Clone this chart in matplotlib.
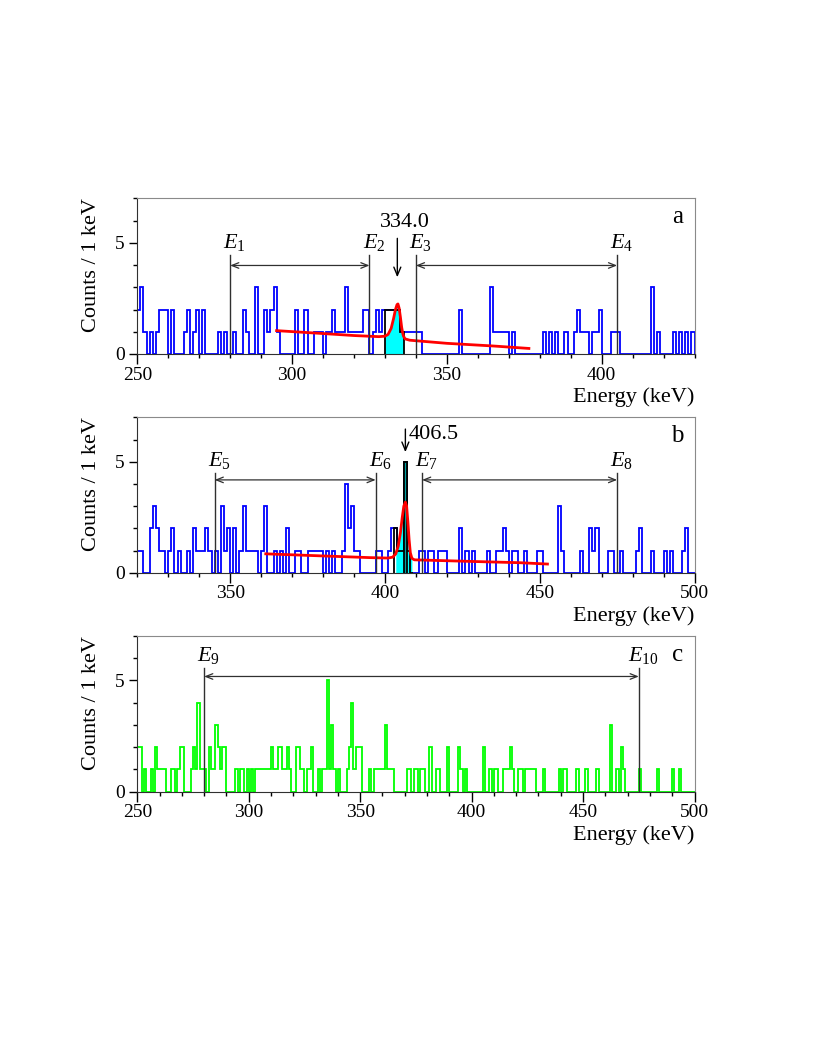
import numpy as np
import matplotlib.pyplot as plt
from matplotlib.ticker import MultipleLocator

plt.rcParams['font.family'] = ['Liberation Serif', 'DejaVu Serif']
plt.rcParams['mathtext.fontset'] = 'custom'
plt.rcParams['mathtext.rm'] = 'Liberation Serif'
plt.rcParams['mathtext.it'] = 'Liberation Serif:italic'

# ---- panel a : 250-430 keV, 1 keV bins ----
counts_a = [2, 3, 1, 0, 1, 0, 1, 2, 2, 2,   # 250
            0, 2, 0, 0, 0, 1, 2, 0, 1, 2,   # 260
            0, 2, 0, 0, 0, 0, 1, 0, 1, 0,   # 270
            0, 1, 0, 0, 2, 1, 0, 0, 3, 0,   # 280
            0, 2, 1, 2, 3, 1, 0, 0, 0, 0,   # 290
            0, 2, 0, 0, 2, 0, 0, 1, 1, 1,   # 300
            0, 1, 1, 2, 1, 1, 1, 3, 1, 1,   # 310
            1, 1, 1, 2, 2, 0, 1, 2, 1, 2,   # 320
            2, 2, 2, 2, 2, 1, 1, 1, 1, 1,   # 330
            1, 1, 0, 0, 0, 0, 0, 0, 0, 0,   # 340
            0, 0, 0, 0, 2, 0, 0, 0, 0, 0,   # 350
            0, 0, 0, 0, 3, 1, 1, 1, 1, 1,   # 360
            0, 1, 0, 0, 0, 0, 0, 0, 0, 0,   # 370
            0, 1, 0, 1, 0, 1, 0, 0, 1, 0,   # 380
            0, 1, 2, 1, 1, 1, 0, 1, 1, 2,   # 390
            0, 0, 0, 1, 1, 1, 0, 0, 0, 0,   # 400
            0, 0, 0, 0, 0, 0, 3, 0, 1, 0,   # 410
            0, 0, 0, 1, 0, 1, 0, 1, 0, 1]   # 420
fit_a_E = [295, 310, 320, 328, 330, 331, 332, 332.8, 333.4, 333.9, 334.2,
           334.6, 335.0, 335.4, 335.8, 336.0, 336.5, 338, 350, 365, 376.5]
fit_a_y = [1.05, 0.92, 0.83, 0.78, 0.80, 0.88, 1.15, 1.6, 2.0, 2.22, 2.25,
           2.05, 1.65, 1.2, 0.9, 0.8, 0.68, 0.62, 0.48, 0.36, 0.25]
peak_a = (330, 336)
marks_a = [280, 325, 340, 405]
names_a = ['1', '2', '3', '4']

# ---- panel b : 320-500 keV ----
counts_b = [1, 1, 0, 0, 2, 3, 2, 1, 1, 0,   # 320
            1, 2, 0, 1, 0, 0, 1, 0, 2, 1,   # 330
            1, 1, 2, 1, 0, 1, 0, 3, 1, 2,   # 340
            0, 2, 0, 1, 3, 1, 1, 1, 1, 0,   # 350
            1, 3, 0, 0, 1, 0, 1, 0, 2, 0,   # 360
            0, 1, 1, 0, 0, 1, 1, 1, 1, 1,   # 370
            0, 1, 0, 1, 0, 0, 1, 4, 2, 3,   # 380
            1, 1, 0, 0, 0, 0, 0, 1, 1, 0,   # 390
            0, 1, 2, 2, 1, 1, 5, 1, 0, 0,   # 400
            0, 1, 1, 0, 1, 1, 0, 1, 1, 1,   # 410
            0, 0, 0, 0, 2, 0, 1, 0, 1, 0,   # 420
            0, 0, 0, 1, 0, 0, 1, 1, 2, 1,   # 430
            0, 1, 1, 0, 0, 1, 0, 0, 0, 1,   # 440
            1, 0, 0, 0, 0, 0, 3, 1, 0, 0,   # 450
            0, 0, 0, 1, 0, 0, 2, 1, 2, 0,   # 460
            0, 0, 1, 1, 0, 0, 1, 0, 0, 0,   # 470
            0, 1, 2, 0, 0, 0, 1, 0, 0, 0,   # 480
            1, 0, 1, 0, 0, 0, 1, 2, 0, 0]   # 490
fit_b_E = [361.5, 379, 395, 401, 402.5, 403.5, 404.3, 405.0, 405.6, 406.1,
           406.6, 407.0, 407.4, 407.8, 408.2, 408.7, 409.5, 412, 430, 443.6, 452.5]
fit_b_y = [0.85, 0.76, 0.68, 0.66, 0.70, 0.85, 1.2, 1.8, 2.5, 3.0,
           3.18, 3.0, 2.3, 1.5, 0.9, 0.65, 0.58, 0.57, 0.50, 0.45, 0.39]
peak_b = (403, 409)
marks_b = [345, 397, 412, 475]
names_b = ['5', '6', '7', '8']

# ---- panel c : 250-500 keV ----
counts_c = [2, 2, 0, 1, 0, 0, 1, 0, 2, 1,   # 250
            1, 1, 1, 0, 0, 1, 1, 0, 1, 2,   # 260
            2, 0, 0, 0, 1, 2, 1, 4, 1, 1,   # 270
            1, 0, 2, 1, 1, 3, 2, 1, 2, 2,   # 280
            0, 0, 0, 0, 1, 0, 1, 1, 0, 1,   # 290
            0, 1, 0, 1, 1, 1, 1, 1, 1, 1,   # 300
            2, 1, 1, 2, 2, 1, 1, 2, 1, 0,   # 310
            0, 2, 2, 1, 1, 0, 1, 1, 2, 0,   # 320
            0, 1, 0, 1, 1, 5, 1, 3, 1, 0,   # 330
            1, 0, 0, 0, 1, 2, 4, 1, 2, 2,   # 340
            2, 0, 0, 0, 1, 0, 1, 1, 1, 1,   # 350
            1, 3, 1, 1, 1, 0, 0, 0, 0, 0,   # 360
            0, 1, 1, 0, 1, 1, 0, 1, 1, 0,   # 370
            0, 2, 0, 0, 1, 1, 0, 0, 0, 2,   # 380
            0, 0, 0, 0, 2, 1, 0, 1, 0, 0,   # 390
            0, 0, 0, 0, 0, 2, 0, 0, 1, 0,   # 400
            1, 1, 0, 0, 1, 1, 1, 2, 1, 0,   # 410
            0, 1, 1, 0, 1, 1, 1, 1, 1, 0,   # 420
            0, 0, 1, 0, 0, 0, 0, 0, 0, 1,   # 430
            0, 1, 1, 0, 0, 0, 0, 1, 0, 0,   # 440
            0, 1, 0, 0, 0, 0, 1, 0, 0, 0,   # 450
            0, 0, 3, 0, 0, 1, 0, 2, 1, 0,   # 460
            0, 0, 0, 0, 0, 1, 0, 0, 0, 0,   # 470
            0, 0, 0, 1, 0, 0, 0, 0, 0, 0,   # 480
            1, 0, 0, 1, 0, 0, 0, 0, 0, 0]   # 490
marks_c = [280, 475]
names_c = ['9', '10']

W, H = 817, 1057
fig = plt.figure(figsize=(W / 100, H / 100), dpi=100)


def make_axes(top, bottom):
    left, right = 137.3, 694.5
    return fig.add_axes([left / W, 1 - bottom / H, (right - left) / W, (bottom - top) / H])


def style(ax, lo, hi, letter):
    ax.set_xlim(lo, hi)
    ax.set_ylim(0, 7)
    ax.xaxis.set_major_locator(MultipleLocator(50))
    ax.xaxis.set_minor_locator(MultipleLocator(10))
    ax.yaxis.set_major_locator(MultipleLocator(5))
    ax.yaxis.set_minor_locator(MultipleLocator(1))
    ax.tick_params(which='major', direction='out', length=6, width=1, labelsize=14, pad=3)
    ax.tick_params(which='minor', direction='out', length=3, width=1)
    ax.tick_params(axis='x', which='major', length=7, pad=2)
    for s in ['top', 'right']:
        ax.spines[s].set_color('#8a8a8a')
    for s in ['left', 'bottom']:
        ax.spines[s].set_color('#303030')
    ax.set_xlabel('Energy (keV)', loc='right', fontsize=16, labelpad=3)
    ax.set_ylabel('Counts / 1 keV', loc='top', fontsize=16, labelpad=10)
    ax.text(0.97, 0.88, letter, transform=ax.transAxes, fontsize=18,
            ha='center', va='center')


def ranges(ax, marks, names, ytop, yarrow, dx):
    for e, n in zip(marks, names):
        ax.plot([e, e], [0, ytop], color='#303030', lw=1)
        ax.text(e + dx, ytop + 0.1, '$E_{%s}$' % n, fontsize=16, ha='center', va='bottom')
    for i in range(0, len(marks), 2):
        ax.annotate('', xy=(marks[i], yarrow), xytext=(marks[i + 1], yarrow),
                    arrowprops=dict(arrowstyle='<->,head_length=0.5,head_width=0.2',
                                    color='#303030', lw=0.9, shrinkA=0, shrinkB=0))


def panel(ax, lo, counts, color):
    edges = np.arange(lo, lo + len(counts) + 1)
    ax.stairs(counts, edges, color=color, lw=1.3, baseline=0)
    return edges


# panel a
ax = make_axes(198.3, 354)
edges = panel(ax, 250, counts_a, '#0000ff')
fe, fy = np.array(fit_a_E), np.array(fit_a_y)
m = (fe >= peak_a[0]) & (fe <= peak_a[1])
ax.fill_between(fe[m], 0, fy[m], color='#00ffff', lw=0)
i0, i1 = peak_a[0] - 250, peak_a[1] - 250
ax.stairs(counts_a[i0:i1], edges[i0:i1 + 1], color='black', lw=1.3, baseline=0)
ax.plot(fe, fy, color='#ff0000', lw=2)
ranges(ax, marks_a, names_a, 4.44, 3.98, 1.5)
ax.annotate('', xy=(334, 3.45), xytext=(334, 5.2),
            arrowprops=dict(arrowstyle='->,head_length=0.6,head_width=0.25',
                            color='black', lw=1, shrinkA=0, shrinkB=0))
ax.text(336.5, 5.93, '334.0', fontsize=16, ha='center', va='center')
style(ax, 250, 430, 'a')

# panel b
ax = make_axes(417.3, 572.7)
edges = panel(ax, 320, counts_b, '#0000ff')
fe, fy = np.array(fit_b_E), np.array(fit_b_y)
m = (fe >= peak_b[0]) & (fe <= peak_b[1])
ax.fill_between(fe[m], 0, fy[m], color='#00ffff', lw=0)
i0, i1 = peak_b[0] - 320, peak_b[1] - 320
# the tall peak bin is shaded as well
ax.stairs(counts_b[i0:i1], edges[i0:i1 + 1], color='black', lw=1.3, baseline=0)
j = counts_b.index(max(counts_b))
ax.stairs([counts_b[j]], edges[j:j + 2], color='#00a0a0', fill=True, lw=0)
ax.stairs([counts_b[j]], edges[j:j + 2], color='black', lw=1.3, baseline=0)
ax.plot(fe, fy, color='#ff0000', lw=2)
ranges(ax, marks_b, names_b, 4.48, 4.18, 1.5)
ax.annotate('', xy=(406.6, 5.43), xytext=(406.6, 6.47),
            arrowprops=dict(arrowstyle='->,head_length=0.6,head_width=0.25',
                            color='black', lw=1, shrinkA=0, shrinkB=0))
ax.text(407.8, 6.22, '406.5', fontsize=16, ha='left', va='center')
style(ax, 320, 500, 'b')

# panel c
ax = make_axes(636, 791.7)
panel(ax, 250, counts_c, '#00ff00')
ranges(ax, marks_c, names_c, 5.57, 5.18, 2.0)
style(ax, 250, 500, 'c')

fig.savefig('out.png', dpi=100)
